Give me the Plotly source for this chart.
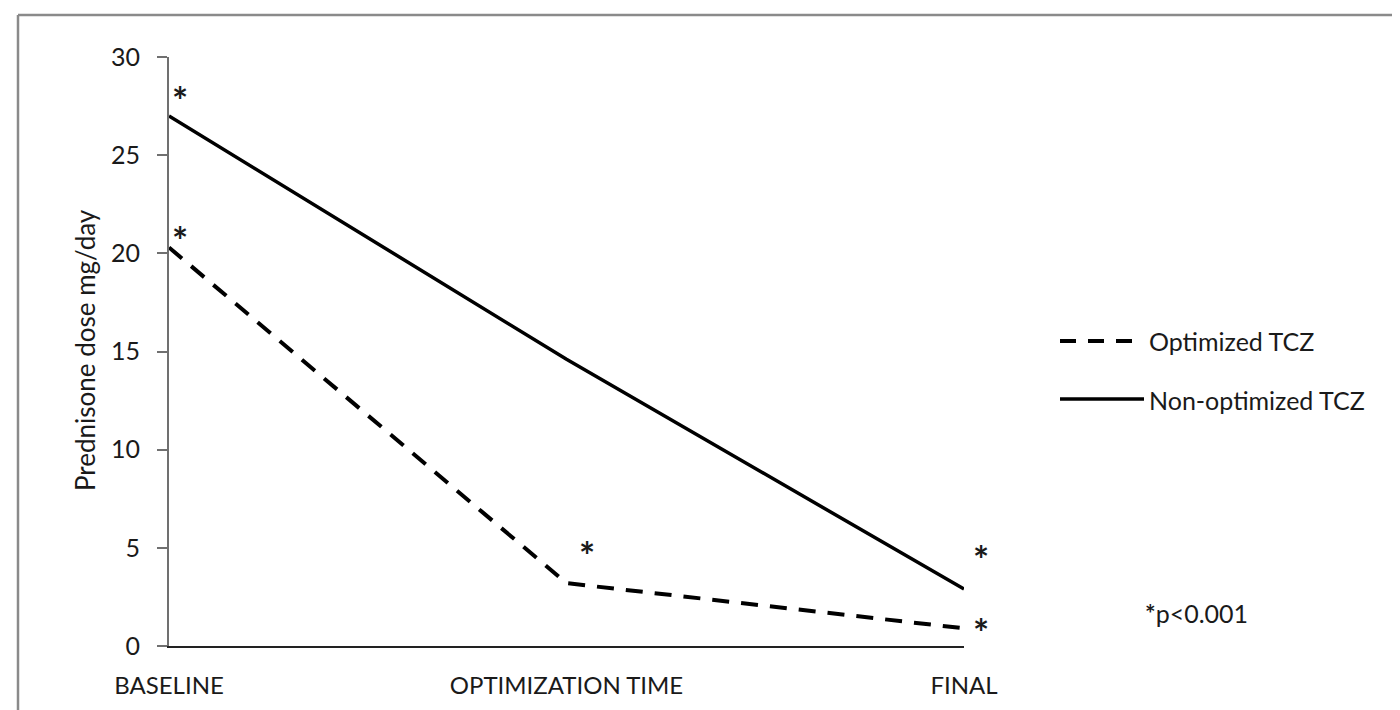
import plotly.graph_objects as go

# ---- data ----
categories = ["BASELINE", "OPTIMIZATION TIME", "FINAL"]
optimized_tcz = [20.3, 3.2, 0.9]
non_optimized_tcz = [27.0, 14.6, 2.9]
series_names = ["Optimized TCZ", "Non-optimized TCZ"]
y_ticks = [0, 5, 10, 15, 20, 25, 30]

# ---- layout geometry (pixels) ----
W, H = 1400, 710
L, R, T, B = 161, 956, 49, 638
def px(x):  # pixel x -> paper x
    return (x - L) / (R - L)
def py(y):  # pixel y -> paper y
    return (B - y) / (B - T)

FONT = "Lato"
TXT = "#1a1a1a"
xs = list(range(len(categories)))

fig = go.Figure()
fig.add_trace(go.Scatter(x=xs, y=optimized_tcz, mode="lines", name=series_names[0],
                         line=dict(color="black", width=4, dash="17px,12px"), showlegend=False))
fig.add_trace(go.Scatter(x=xs, y=non_optimized_tcz, mode="lines", name=series_names[1],
                         line=dict(color="black", width=3.5), showlegend=False))

fig.update_layout(
    width=W, height=H,
    margin=dict(l=L, r=W - R, t=T, b=H - B, pad=0),
    paper_bgcolor="white", plot_bgcolor="white",
    font=dict(family=FONT, size=25, color=TXT),
    xaxis=dict(range=[0, 2], tickvals=xs, ticktext=categories, showgrid=False, zeroline=False,
               showline=True, linecolor="#222", linewidth=2, ticks="", ticklabelstandoff=17,
               tickfont=dict(size=24, color=TXT)),
    yaxis=dict(range=[0, 30], tickvals=y_ticks, showgrid=False, zeroline=False,
               showline=True, linecolor="#707070", linewidth=2, ticks="outside", ticklen=10,
               tickwidth=2, tickcolor="#707070", ticklabelstandoff=12,
               tickfont=dict(size=25, color=TXT)),
    showlegend=False,
)

shapes = []
# outer frame (top and left edges)
shapes.append(dict(type="line", xref="paper", yref="paper", x0=px(10), x1=px(1400), y0=py(7), y1=py(7),
                   line=dict(color="#8a8a8a", width=2.5)))
shapes.append(dict(type="line", xref="paper", yref="paper", x0=px(10), x1=px(10), y0=py(7), y1=py(710),
                   line=dict(color="#8a8a8a", width=2.5)))
# manual legend samples
shapes.append(dict(type="line", xref="paper", yref="paper", x0=px(1052), x1=px(1124), y0=py(333), y1=py(333),
                   line=dict(color="black", width=4, dash="16px,12px")))
shapes.append(dict(type="line", xref="paper", yref="paper", x0=px(1052), x1=px(1136), y0=py(391), y1=py(391),
                   line=dict(color="black", width=3.5)))
fig.update_layout(shapes=shapes)

ann = []
ann.append(dict(text="Prednisone dose mg/day", xref="paper", yref="paper", x=px(77), y=py(342),
                textangle=-90, showarrow=False, font=dict(size=26, color=TXT),
                xanchor="center", yanchor="middle"))
ann.append(dict(text=series_names[0], xref="paper", yref="paper", x=px(1139), y=py(333),
                xanchor="left", yanchor="middle", showarrow=False, font=dict(size=25, color=TXT)))
ann.append(dict(text=series_names[1], xref="paper", yref="paper", x=px(1139), y=py(392),
                xanchor="left", yanchor="middle", showarrow=False, font=dict(size=25, color=TXT)))
ann.append(dict(text="<b>*</b>p<0.001", xref="paper", yref="paper", x=px(1188), y=py(605),
                xanchor="center", yanchor="middle", showarrow=False, font=dict(size=25, color=TXT)))
# significance asterisks
for (ax, ay) in [(172, 92), (172, 232), (579, 547), (973, 551), (973, 624)]:
    ann.append(dict(text="<b>*</b>", xref="paper", yref="paper", x=px(ax), y=py(ay),
                    xanchor="center", yanchor="middle", showarrow=False, font=dict(size=38, color=TXT)))
fig.update_layout(annotations=ann)

fig.write_html("out.html")
